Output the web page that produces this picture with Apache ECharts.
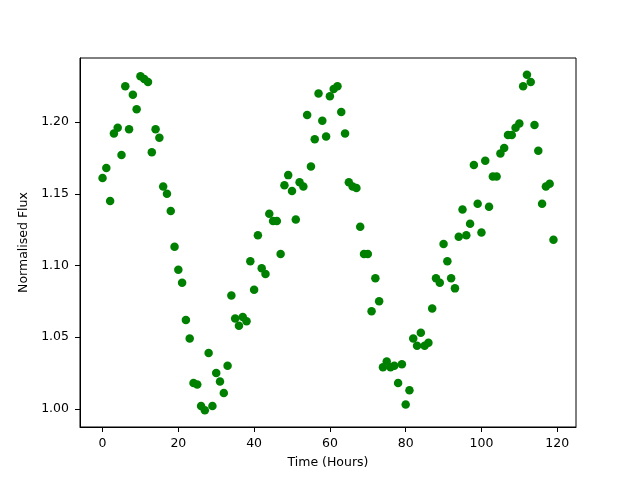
<!DOCTYPE html>
<html>
<head>
<meta charset="utf-8">
<script src="https://cdn.jsdelivr.net/npm/echarts@6/dist/echarts.min.js"></script>
<style>
  html, body { margin: 0; padding: 0; background: #fff; }
  #chart { width: 640px; height: 480px; }
</style>
</head>
<body>
<div id="chart"></div>
<script>
// hours since start of observation
const hours = [];
for (let i = 0; i < 120; i++) hours.push(i);

// normalised flux, one value per hour
const flux = [
  1.161, 1.168, 1.145, 1.192, 1.196, 1.177, 1.225, 1.195, 1.219, 1.209,
  1.232, 1.230, 1.228, 1.179, 1.195, 1.189, 1.155, 1.150, 1.138, 1.113,
  1.097, 1.088, 1.062, 1.049, 1.018, 1.017, 1.002, 0.999, 1.039, 1.002,
  1.025, 1.019, 1.011, 1.030, 1.079, 1.063, 1.058, 1.064, 1.061, 1.103,
  1.083, 1.121, 1.098, 1.094, 1.136, 1.131, 1.131, 1.108, 1.156, 1.163,
  1.152, 1.132, 1.158, 1.155, 1.205, 1.169, 1.188, 1.220, 1.201, 1.190,
  1.218, 1.223, 1.225, 1.207, 1.192, 1.158, 1.155, 1.154, 1.127, 1.108,
  1.108, 1.068, 1.091, 1.075, 1.029, 1.033, 1.029, 1.030, 1.018, 1.031,
  1.003, 1.013, 1.049, 1.044, 1.053, 1.044, 1.046, 1.070, 1.091, 1.088,
  1.115, 1.103, 1.091, 1.084, 1.120, 1.139, 1.121, 1.129, 1.170, 1.143,
  1.123, 1.173, 1.141, 1.162, 1.162, 1.178, 1.182, 1.191, 1.191, 1.196,
  1.199, 1.225, 1.233, 1.228, 1.198, 1.180, 1.143, 1.155, 1.157, 1.118
];

const xTicks = [0, 20, 40, 60, 80, 100, 120];
const yTicks = [1.00, 1.05, 1.10, 1.15, 1.20];

const points = hours.map((h, i) => [h, flux[i]]);

const font = "DejaVu Sans";
const fontSize = 12.5;

const chart = echarts.init(document.getElementById("chart"), null, { renderer: "canvas" });

chart.setOption({
  animation: false,
  backgroundColor: "#fff",
  textStyle: { fontFamily: font },
  grid: {
    left: 80,
    right: 64,
    top: 58,
    bottom: 53,
    show: true,
    borderColor: "#000",
    borderWidth: 1,
    backgroundColor: "transparent"
  },
  xAxis: {
    type: "value",
    min: -5.95,
    max: 124.95,
    name: "Time (Hours)",
    nameLocation: "middle",
    nameGap: 29,
    nameTextStyle: { color: "#000", fontSize: fontSize, fontFamily: font },
    axisLine: { show: true, onZero: false, lineStyle: { color: "#000", width: 1 } },
    axisTick: { show: true, inside: false, length: 5, customValues: xTicks, lineStyle: { color: "#000", width: 1 } },
    axisLabel: { customValues: xTicks, color: "#000", fontSize: fontSize, fontFamily: font, margin: 10 },
    splitLine: { show: false }
  },
  yAxis: {
    type: "value",
    min: 0.9873,
    max: 1.2447,
    name: "Normalised Flux",
    nameLocation: "middle",
    nameGap: 43,
    nameTextStyle: { color: "#000", fontSize: fontSize, fontFamily: font },
    axisLine: { show: true, onZero: false, lineStyle: { color: "#000", width: 1 } },
    axisTick: { show: true, inside: false, length: 5, customValues: yTicks, lineStyle: { color: "#000", width: 1 } },
    axisLabel: {
      customValues: yTicks,
      color: "#000",
      fontSize: fontSize,
      fontFamily: font,
      margin: 11,
      formatter: v => v.toFixed(2)
    },
    splitLine: { show: false }
  },
  series: [
    {
      type: "scatter",
      data: points,
      symbol: "circle",
      symbolSize: 8.5,
      itemStyle: { color: "#008000", opacity: 1 }
    }
  ]
});
</script>
</body>
</html>
